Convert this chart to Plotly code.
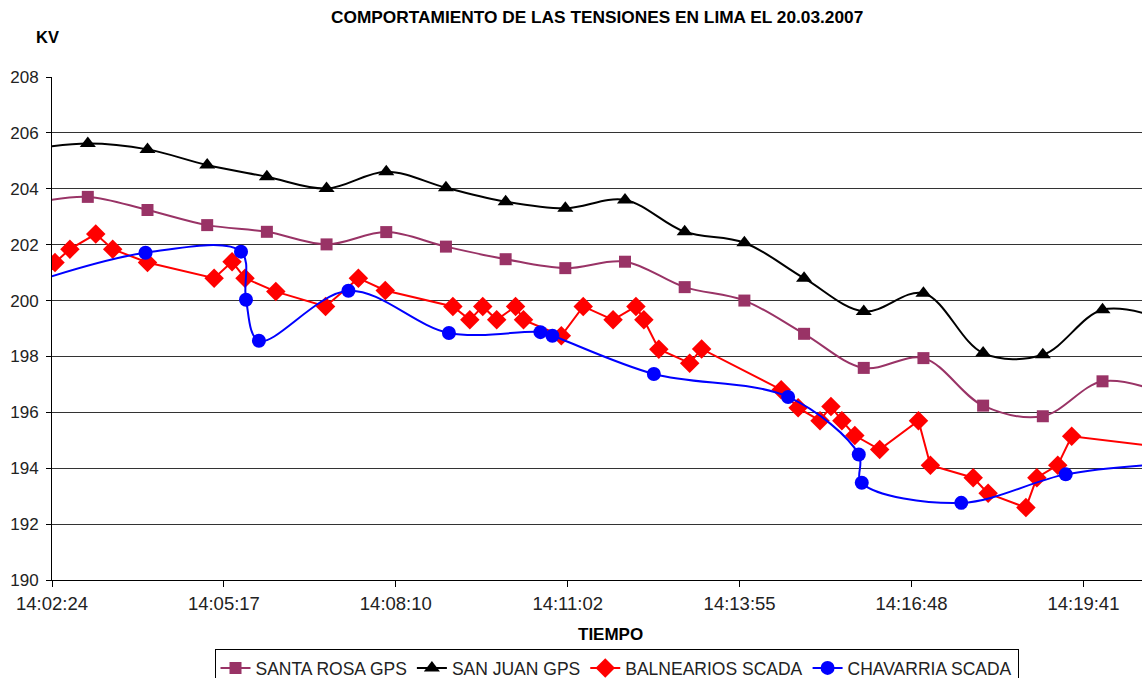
import plotly.graph_objects as go
import pandas as pd

DAY = "2007-03-20 "

# SANTA ROSA GPS (purple squares) and SAN JUAN GPS (black triangles): one sample per minute
gps_times = ["14:02:00", "14:03:00", "14:04:00", "14:05:00", "14:06:00", "14:07:00",
             "14:08:00", "14:09:00", "14:10:00", "14:11:00", "14:12:00", "14:13:00",
             "14:14:00", "14:15:00", "14:16:00", "14:17:00", "14:18:00", "14:19:00",
             "14:20:00", "14:21:00"]
santa_rosa = [203.45, 203.71, 203.24, 202.70, 202.46, 202.01, 202.45, 201.93, 201.48, 201.16,
              201.39, 200.48, 200.00, 198.81, 197.59, 197.94, 196.24, 195.86, 197.11, 196.70]
san_juan = [205.40, 205.62, 205.41, 204.85, 204.43, 204.01, 204.61, 204.04, 203.54, 203.30,
            203.60, 202.46, 202.07, 200.80, 199.61, 200.26, 198.12, 198.06, 199.67, 199.35]

# BALNEARIOS SCADA (red diamonds)
balnearios_times = ["14:02:14", "14:02:27", "14:02:42", "14:03:08", "14:03:25", "14:04:00",
                    "14:05:07", "14:05:25", "14:05:38", "14:06:09", "14:06:59", "14:07:32",
                    "14:07:59", "14:09:07", "14:09:24", "14:09:37", "14:09:51", "14:10:10",
                    "14:10:18", "14:10:56", "14:11:18", "14:11:48", "14:12:11", "14:12:19",
                    "14:12:34", "14:13:05", "14:13:17", "14:14:37", "14:14:54", "14:15:16",
                    "14:15:27", "14:15:38", "14:15:51", "14:16:16", "14:16:55", "14:17:07",
                    "14:17:50", "14:18:05", "14:18:43", "14:18:54", "14:19:15", "14:19:29",
                    "14:21:00"]
balnearios = [201.80, 201.36, 201.84, 202.38, 201.84, 201.36,
              200.80, 201.39, 200.80, 200.32, 199.79, 200.80,
              200.36, 199.79, 199.31, 199.79, 199.31, 199.79,
              199.31, 198.74, 199.79, 199.31, 199.79, 199.31,
              198.26, 197.76, 198.27, 196.81, 196.16, 195.70,
              196.21, 195.70, 195.17, 194.67, 195.70, 194.11,
              193.66, 193.10, 192.59, 193.66, 194.11, 195.14,
              194.75]

# CHAVARRIA SCADA (blue circles)
chavarria_times = ["14:02:00", "14:03:58", "14:05:34", "14:05:39", "14:05:52", "14:07:22",
                   "14:09:03", "14:10:35", "14:10:47", "14:12:29", "14:14:44", "14:15:55",
                   "14:15:58", "14:17:38", "14:19:23", "14:21:00"]
chavarria = [200.60, 201.71, 201.75, 200.03, 198.56, 200.35,
             198.84, 198.87, 198.74, 197.37, 196.55, 194.49,
             193.48, 192.76, 193.78, 194.15]

tick_labels = ["14:02:24", "14:05:17", "14:08:10", "14:11:02", "14:13:55", "14:16:48", "14:19:41"]

start = pd.Timestamp(DAY + "14:02:24")
tick_vals = [start + pd.Timedelta(seconds=172.8 * k) for k in range(len(tick_labels))]
x_end = start + pd.Timedelta(seconds=1095.7)


def ts(lst):
    return [pd.Timestamp(DAY + t) for t in lst]


FONT = "Liberation Sans, Arial, sans-serif"

fig = go.Figure()
fig.add_trace(go.Scatter(
    x=ts(gps_times), y=santa_rosa, name="SANTA ROSA GPS", mode="lines+markers",
    line=dict(color="#993366", width=2, shape="spline", smoothing=1),
    marker=dict(symbol="square", size=12, color="#993366")))
fig.add_trace(go.Scatter(
    x=ts(gps_times), y=san_juan, name="SAN JUAN GPS", mode="lines+markers",
    line=dict(color="#000000", width=2, shape="spline", smoothing=1),
    marker=dict(symbol="triangle-up", size=14, color="#000000")))
fig.add_trace(go.Scatter(
    x=ts(balnearios_times), y=balnearios, name="BALNEARIOS SCADA", mode="lines+markers",
    line=dict(color="#FF0000", width=2),
    marker=dict(symbol="diamond", size=15, color="#FF0000")))
fig.add_trace(go.Scatter(
    x=ts(chavarria_times), y=chavarria, name="CHAVARRIA SCADA", mode="lines+markers",
    line=dict(color="#0000FF", width=2, shape="spline", smoothing=1),
    marker=dict(symbol="circle", size=14, color="#0000FF")))

fig.update_layout(
    width=1142, height=678,
    margin=dict(l=52, r=0, t=77, b=98),
    paper_bgcolor="white", plot_bgcolor="white",
    font=dict(family=FONT, size=17, color="#222222"),
    showlegend=True,
    legend=dict(orientation="h", xref="container", yref="container",
                x=616.5 / 1142, xanchor="center", y=1 - 649 / 678, yanchor="top",
                bordercolor="#000000", borderwidth=1,
                font=dict(family=FONT, size=17.5, color="#222222"),
                itemwidth=30, tracegroupgap=0),
    annotations=[
        dict(text="<b>COMPORTAMIENTO DE LAS TENSIONES EN LIMA EL 20.03.2007</b>",
             xref="paper", yref="paper", x=(597 - 52) / 1090, y=(580 - 17) / 503,
             xanchor="center", yanchor="middle", showarrow=False,
             font=dict(family=FONT, size=17.3, color="#000000")),
        dict(text="<b>KV</b>", xref="paper", yref="paper",
             x=(47 - 52) / 1090, y=(580 - 37) / 503,
             xanchor="center", yanchor="middle", showarrow=False,
             font=dict(family=FONT, size=16.5, color="#000000")),
        dict(text="<b>TIEMPO</b>", xref="paper", yref="paper",
             x=(610 - 52) / 1090, y=(580 - 634) / 503,
             xanchor="center", yanchor="middle", showarrow=False,
             font=dict(family=FONT, size=17, color="#000000")),
    ],
)

fig.update_xaxes(
    type="date", range=[start, x_end],
    tickmode="array", tickvals=tick_vals, ticktext=tick_labels,
    showgrid=False, zeroline=False,
    showline=True, linecolor="#000000", linewidth=1,
    ticks="outside", ticklen=6, tickcolor="#000000", ticklabelstandoff=1,
    tickfont=dict(family=FONT, size=18.5, color="#222222"))

fig.update_yaxes(
    range=[190, 208], dtick=2, tick0=190,
    showgrid=True, gridcolor="#333333", gridwidth=1, zeroline=False,
    showline=True, linecolor="#000000", linewidth=1,
    ticks="outside", ticklen=5, tickcolor="#000000", ticklabelstandoff=4,
    tickfont=dict(family=FONT, size=17, color="#222222"))

fig.write_html("out.html", config={"displayModeBar": False},
               post_script="document.body.style.margin='0';document.body.style.overflow='hidden';")
